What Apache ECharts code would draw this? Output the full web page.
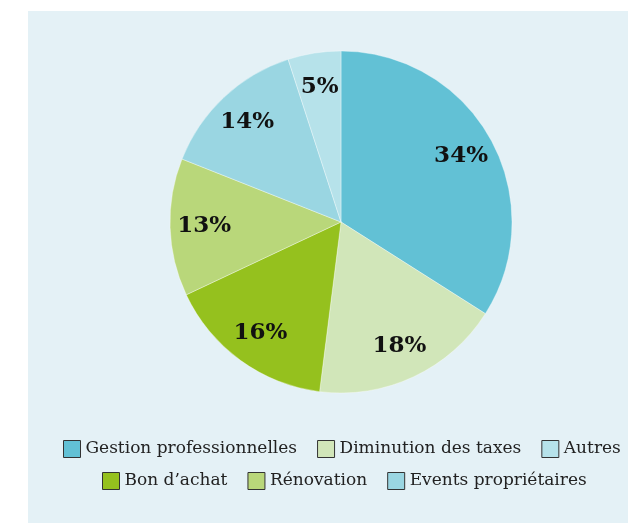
<!DOCTYPE html>
<html>
<head>
<meta charset="utf-8">
<script src="https://cdn.jsdelivr.net/npm/echarts@6/dist/echarts.min.js"></script>
<style>
	body{margin:0;background:#fff;overflow:hidden;}
	#panel{position:absolute;left:28px;top:11px;width:600px;height:512px;background:#e4f1f6;}
	#chart{position:absolute;left:0;top:0;width:628px;height:524px;}
</style>
</head>
<body>
<div id="panel"></div>
<div id="chart"></div>
<script>
	// slices, clockwise from 12 o'clock
	var names = ['Gestion professionnelles', 'Diminution des taxes', 'Bon d\u2019achat', 'Rénovation', 'Events propriétaires', 'Autres'];
	var values = [34, 18, 16, 13, 14, 5];
	var colors = ['#62c1d5', '#d1e6b9', '#95c11e', '#b9d77a', '#9ad6e2', '#b6e2ea'];
	var legendRow1 = ['Gestion professionnelles', 'Diminution des taxes', 'Autres'];
	var legendRow2 = ['Bon d\u2019achat', 'Rénovation', 'Events propriétaires'];

	var myChart = echarts.init(document.getElementById('chart'));
	var pieData = names.map(function (n, i) {
		return {name: n, value: values[i], itemStyle: {color: colors[i]}};
	});
	var legendBase = {
		orient: 'horizontal',
		icon: 'rect',
		itemWidth: 17,
		itemHeight: 17,
		itemGap: 20,
		selectedMode: false,
		itemStyle: {borderColor: '#333', borderWidth: 1},
		textStyle: {fontFamily: 'DejaVu Serif', fontSize: 17, color: '#222'}
	};
	var option = {
		animation: false,
		legend: [
			Object.assign({}, legendBase, {data: legendRow1, left: 58, top: 435}),
			Object.assign({}, legendBase, {data: legendRow2, left: 97, top: 467})
		],
		series: [
			{
				type: 'pie',
				center: [341, 222],
				radius: [0, 171],
				startAngle: 90,
				silent: true,
				itemStyle: {borderColor: 'rgba(255,255,255,0.35)', borderWidth: 1},
				label: {show: false},
				labelLine: {show: false},
				data: pieData
			},
			{
				// label ring only
				type: 'pie',
				center: [341, 222],
				radius: [97, 171],
				startAngle: 90,
				silent: true,
				itemStyle: {color: 'transparent'},
				label: {
					show: true,
					position: 'inside',
					formatter: '{c}%',
					fontFamily: 'DejaVu Serif',
					fontWeight: 'bold',
					fontSize: 23,
					color: '#111'
				},
				labelLine: {show: false},
				data: names.map(function (n, i) { return {name: n, value: values[i]}; })
			}
		]
	};
	myChart.setOption(option);
</script>
</body>
</html>
